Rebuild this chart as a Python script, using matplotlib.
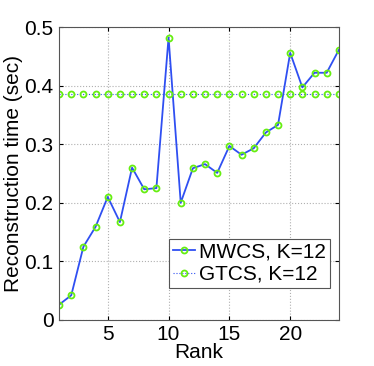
import numpy as np
import matplotlib.pyplot as plt

plt.rcParams["font.family"] = ["Liberation Sans", "DejaVu Sans"]

rank = np.arange(1, 25)
mwcs = [0.026, 0.042, 0.125, 0.159, 0.210, 0.167, 0.260, 0.223, 0.225, 0.482,
        0.200, 0.259, 0.266, 0.251, 0.297, 0.282, 0.293, 0.320, 0.333, 0.456,
        0.397, 0.422, 0.422, 0.461]
gtcs = [0.385] * 24

fig = plt.figure(figsize=(3.74, 3.66), dpi=100)
ax = fig.add_axes([0.158, 0.126, 0.748, 0.8])

ax.plot(rank, mwcs, "-o", color="#2f4ff2", lw=1.3, ms=4.3, mfc="none",
        mec="#66ee11", mew=1.3, label="MWCS, K=12")
ax.plot(rank, gtcs, ":o", color="#2f4ff2", lw=0.8, ms=4.3, mfc="none",
        mec="#66ee11", mew=1.3, label="GTCS, K=12")

ax.set_xlim(1, 24)
ax.set_ylim(0, 0.5)
ax.set_xticks([5, 10, 15, 20])
ax.set_yticks([0, 0.1, 0.2, 0.3, 0.4, 0.5])
ax.set_yticklabels(["0", "0.1", "0.2", "0.3", "0.4", "0.5"])
ax.grid(True, ls=":", color="#b0b0b0", lw=0.8)
ax.tick_params(direction="in", top=True, right=True, labelsize=15, length=3,
               pad=4)
for s in ax.spines.values():
    s.set_color("#555555")
    s.set_linewidth(0.8)

ax.set_xlabel("Rank", fontsize=15, labelpad=-1)
ax.set_ylabel("Reconstruction time (sec)", fontsize=15, labelpad=1)

leg = ax.legend(loc="lower right", bbox_to_anchor=(0.968, 0.109),
                fontsize=15, fancybox=False, framealpha=1,
                edgecolor="#555555", handlelength=1.05, handletextpad=0.2,
                borderpad=0.2, labelspacing=0.15, borderaxespad=0)
leg.get_frame().set_linewidth(0.8)

fig.savefig("out.png", dpi=100)
